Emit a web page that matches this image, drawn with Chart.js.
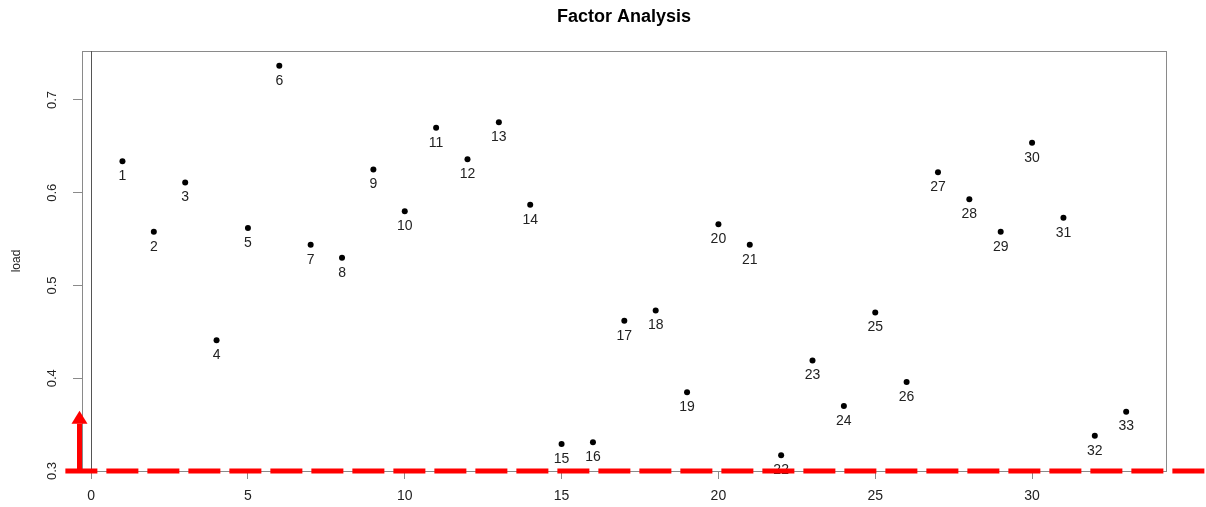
<!DOCTYPE html>
<html>
<head>
<meta charset="utf-8">
<title>Factor Analysis</title>
<script src="https://cdn.jsdelivr.net/npm/chart.js@4.4.1/dist/chart.umd.min.js"></script>
<style>
  html, body { margin: 0; padding: 0; background: #ffffff; }
  #chart { display: block; }
</style>
</head>
<body>
<canvas id="chart" width="1206" height="507"></canvas>
<script>
// Item numbers and their factor loadings
const items = [1, 2, 3, 4, 5, 6, 7, 8, 9, 10, 11, 12, 13, 14, 15, 16, 17,
               18, 19, 20, 21, 22, 23, 24, 25, 26, 27, 28, 29, 30, 31, 32, 33];
const loads = [0.634, 0.558, 0.611, 0.441, 0.562, 0.737, 0.544, 0.530, 0.625, 0.580,
               0.670, 0.636, 0.676, 0.587, 0.329, 0.331, 0.462, 0.473, 0.385, 0.566,
               0.544, 0.317, 0.419, 0.370, 0.471, 0.396, 0.622, 0.593, 0.558, 0.654,
               0.573, 0.338, 0.364];

// Axis ranges and tick spacing
const itemRange = [-0.29, 34.27];
const loadRange = [0.3, 0.7528];
const itemStep = 5;
const loadStep = 0.1;

// Cut-off line for the loadings and the arrow marking it
const cutoffLoad = 0.3;
const cutoffSpan = [-0.82, 36];
const arrowItem = -0.37;
const arrowLoads = [0.3, 0.365];

// Vertical reference line
const refItem = 0;

const FONT = '"Liberation Sans", Arial, Helvetica, sans-serif';
const BOX_COLOR = '#8a8a8a';

const framePlugin = {
  id: 'frame',
  beforeDatasetsDraw(chart) {
    const { ctx, chartArea: a, scales: { x, y } } = chart;
    ctx.save();
    ctx.strokeStyle = BOX_COLOR;
    ctx.lineWidth = 1;
    ctx.strokeRect(Math.round(a.left) + 0.5, Math.round(a.top) + 0.5,
                   Math.round(a.right - a.left), Math.round(a.bottom - a.top));
    const px = Math.round(x.getPixelForValue(refItem)) + 0.5;
    ctx.strokeStyle = '#555555';
    ctx.beginPath();
    ctx.moveTo(px, y.getPixelForValue(loadRange[1]));
    ctx.lineTo(px, y.getPixelForValue(loadRange[0]));
    ctx.stroke();
    ctx.restore();
  },
  afterDatasetDraw(chart, args) {
    if (args.index !== 0) return;
    const { ctx } = chart;
    const meta = chart.getDatasetMeta(0);
    ctx.save();
    ctx.fillStyle = '#222222';
    ctx.font = '14px ' + FONT;
    ctx.textAlign = 'center';
    ctx.textBaseline = 'middle';
    meta.data.forEach((pt, i) => {
      ctx.fillText(String(items[i]), pt.x, pt.y + 15);
    });
    ctx.restore();
  },
  afterDraw(chart) {
    const { ctx, scales: { x, y } } = chart;
    const ax = x.getPixelForValue(arrowItem);
    const y0 = y.getPixelForValue(arrowLoads[0]);
    const y1 = y.getPixelForValue(arrowLoads[1]);
    const headLen = 13, headHalf = 8;
    ctx.save();
    ctx.strokeStyle = '#ff0000';
    ctx.fillStyle = '#ff0000';
    ctx.lineWidth = 5;
    ctx.beginPath();
    ctx.moveTo(ax, y0);
    ctx.lineTo(ax, y1 + headLen);
    ctx.stroke();
    ctx.beginPath();
    ctx.moveTo(ax, y1);
    ctx.lineTo(ax - headHalf, y1 + headLen);
    ctx.lineTo(ax + headHalf, y1 + headLen);
    ctx.closePath();
    ctx.fill();
    ctx.restore();
  }
};

new Chart(document.getElementById('chart'), {
  type: 'scatter',
  data: {
    datasets: [
      {
        label: 'load',
        data: items.map((it, i) => ({ x: it, y: loads[i] })),
        pointRadius: 3,
        pointHoverRadius: 3,
        pointBackgroundColor: '#000000',
        pointBorderWidth: 0,
        order: 2
      },
      {
        label: 'cutoff',
        type: 'line',
        data: cutoffSpan.map(v => ({ x: v, y: cutoffLoad })),
        borderColor: '#ff0000',
        borderWidth: 5,
        borderDash: [32, 9],
        pointRadius: 0,
        fill: false,
        clip: false,
        order: 1
      }
    ]
  },
  options: {
    responsive: false,
    animation: false,
    devicePixelRatio: 1,
    layout: { padding: { left: 0, right: 40, top: 0, bottom: 0 } },
    plugins: {
      legend: { display: false },
      tooltip: { enabled: false },
      title: {
        display: true,
        fullSize: false,
        text: 'Factor Analysis',
        color: '#000000',
        font: { family: FONT, size: 18, weight: 'bold', lineHeight: 1.2 },
        padding: { top: 6, bottom: 23.4 }
      }
    },
    scales: {
      x: {
        type: 'linear',
        min: itemRange[0],
        max: itemRange[1],
        border: { display: false },
        grid: { drawOnChartArea: false, drawTicks: true, tickLength: 8, color: BOX_COLOR },
        ticks: {
          stepSize: itemStep,
          includeBounds: false,
          color: '#222222',
          font: { family: FONT, size: 14 },
          padding: 9,
          maxRotation: 0
        },
        afterFit(scale) { scale.height = 36; }
      },
      y: {
        type: 'linear',
        min: loadRange[0],
        max: loadRange[1],
        border: { display: false },
        grid: { drawOnChartArea: false, drawTicks: true, tickLength: 9, color: BOX_COLOR },
        ticks: {
          stepSize: loadStep,
          includeBounds: false,
          color: '#222222',
          font: { family: FONT, size: 13 },
          padding: 12,
          minRotation: 90,
          maxRotation: 90,
          crossAlign: 'center',
          callback: v => v.toFixed(1)
        },
        title: {
          display: true,
          text: 'load',
          color: '#222222',
          font: { family: FONT, size: 12 },
          padding: { top: 9, bottom: 0 }
        },
        afterFit(scale) { scale.width = 82; }
      }
    }
  },
  plugins: [framePlugin]
});
</script>
</body>
</html>
